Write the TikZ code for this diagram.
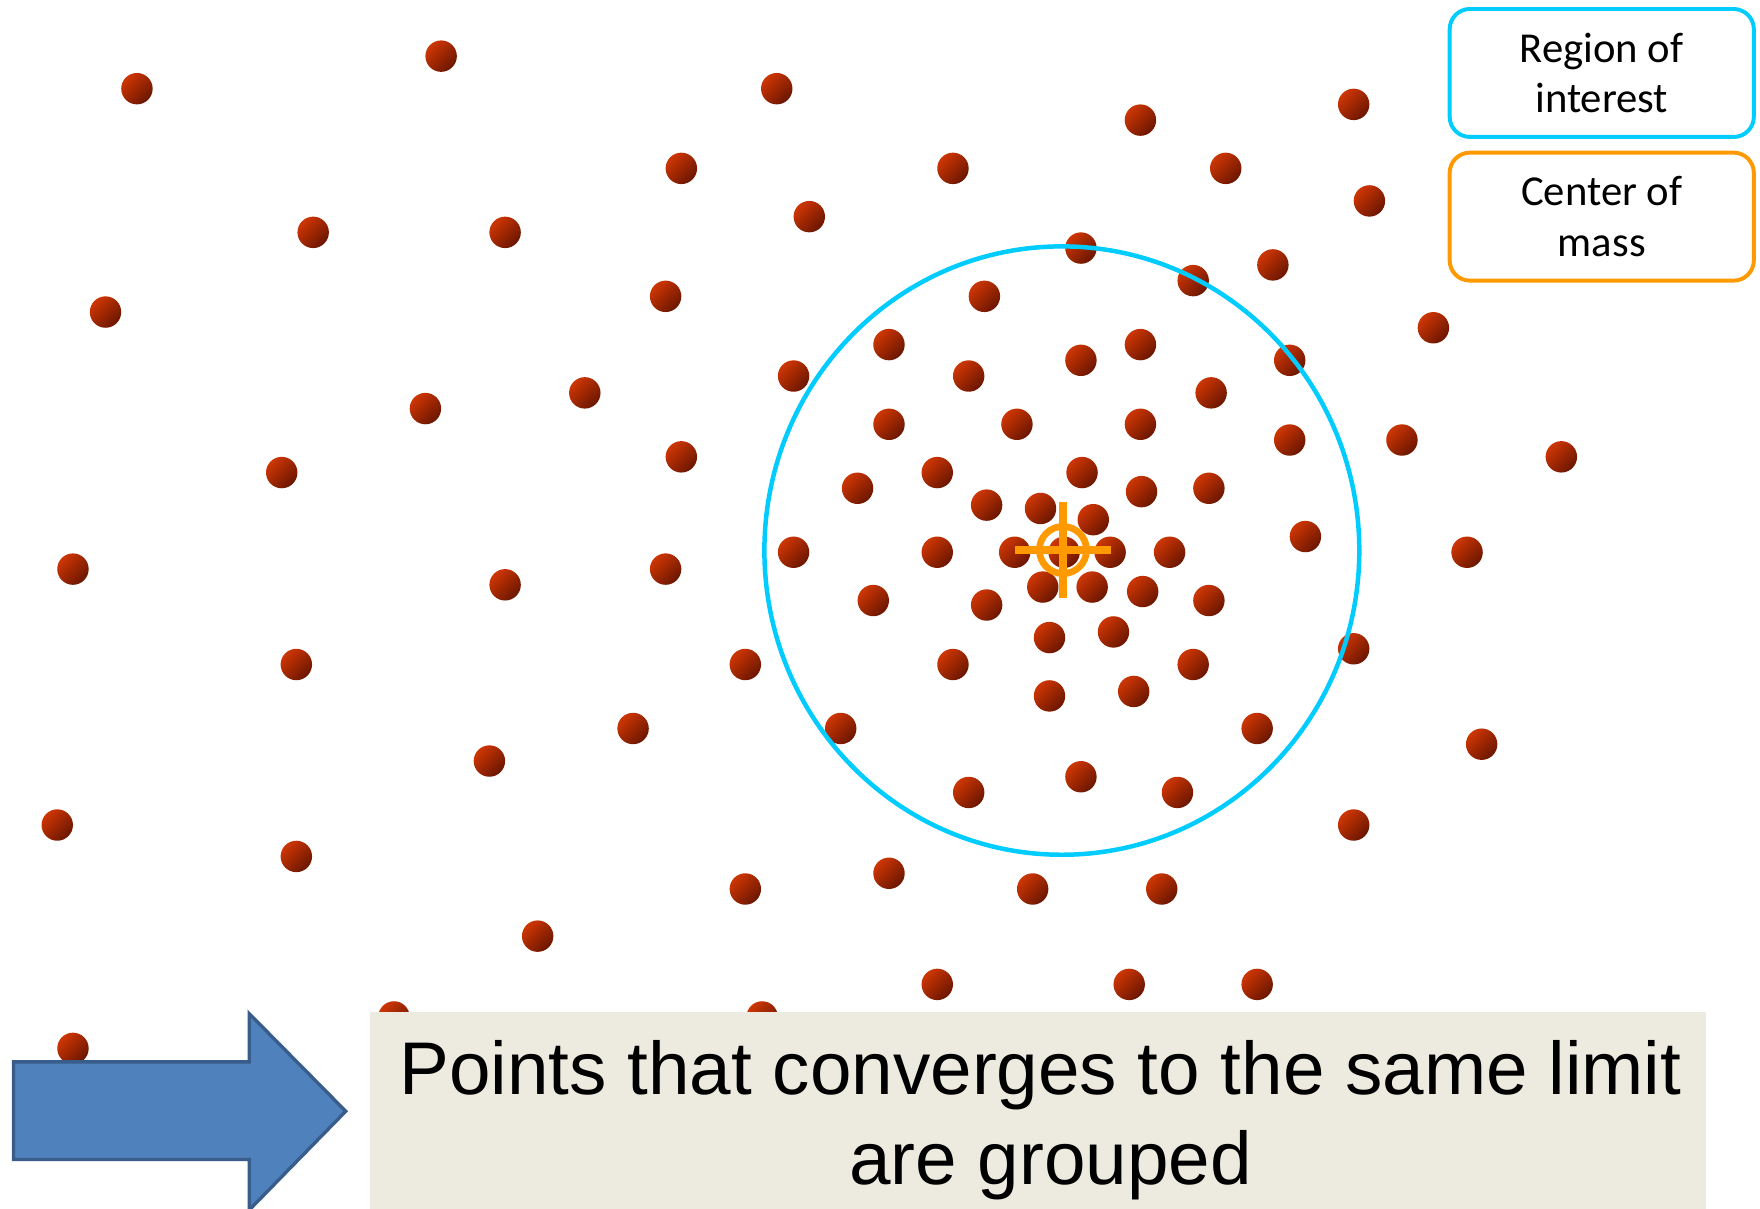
\documentclass[tikz,border=0pt]{standalone}
\usepackage{fontspec}
\setmainfont{Liberation Sans}
\newfontfamily\calfont{Carlito}
\definecolor{roiblue}{RGB}{0,204,255}
\definecolor{comorange}{RGB}{255,153,0}
\definecolor{ptlight}{RGB}{206,54,4}
\definecolor{ptdark}{RGB}{106,22,0}
\definecolor{arrowfill}{RGB}{79,129,189}
\definecolor{arrowline}{RGB}{56,93,138}
\definecolor{notefill}{RGB}{237,235,224}
\tikzset{
    ptdot/.style={top color=ptlight, bottom color=ptdark, shading angle=45},
    legendbox/.style={draw, line width=3.5pt, rounded corners=18pt, minimum width=271pt,
        minimum height=114pt, align=center, font=\calfont\fontsize{38}{45}\selectfont}
}
\begin{document}
\begin{tikzpicture}[x=1pt, y=-1pt]
    \useasboundingbox (0,0) rectangle (1568,1077);
    \fill[white] (0,0) rectangle (1568,1077);

    % Data points
    \foreach \x/\y in {122/79, 393/50, 692/79, 1016/107, 1206/93, 607/150, 849/150, 1092/150,
        1220/179, 279/207, 450/207, 721/193, 963/221, 1134/236, 1063/250, 94/278, 593/264,
        877/264, 1277/292, 792/307, 1016/307, 963/321, 1149/321, 707/335, 863/335, 521/350,
        379/364, 1079/350, 792/378, 906/378, 1016/378, 1149/392, 1249/392, 1391/407, 607/407,
        251/421, 835/421, 964/421, 764/435, 1017/438, 1077/435, 879/450, 927/453, 974/463,
        1163/478, 65/507, 593/507, 707/492, 835/492, 904/492, 948/492, 989/492, 1042/492,
        1307/492, 450/521, 929/523, 973/523, 1018/527, 778/535, 879/539, 1077/535, 992/563,
        935/568, 264/592, 664/592, 849/592, 1063/592, 1206/578, 935/620, 1010/616, 564/649,
        749/649, 1120/649, 1320/663, 436/678, 963/692, 863/706, 1049/706, 51/735, 1206/735,
        264/763, 792/778, 664/792, 920/792, 1035/792, 479/834, 835/877, 1006/877, 1120/877,
        351/906, 679/906, 65/934} {
        \shade[ptdot] (\x,\y) circle (14pt);
    }

    % Region of interest and center of mass
    \coordinate (ctr) at (947,490);
    \draw[roiblue, line width=4pt] (946,490.5) ellipse (265pt and 271pt);
    \draw[comorange, line width=6pt] (ctr) circle (21pt);
    \draw[comorange, line width=7pt] ([xshift=-43pt]ctr) -- ([xshift=43pt]ctr);
    \draw[comorange, line width=7pt] ([yshift=-43pt]ctr) -- ([yshift=43pt]ctr);

    % Legend
    \node[legendbox, draw=roiblue] (roi) at (1427,65) {Region of\\interest};
    \node[legendbox, draw=comorange] (com) at (1427,193) {Center of\\mass};

    % Block arrow
    \draw[fill=arrowfill, draw=arrowline, line width=3pt, line join=miter]
        (12,946) -- (222,946) -- (222,903) -- (308,990) -- (222,1078) -- (222,1033)
        -- (12,1033) -- cycle;

    % Caption
    \fill[notefill] (330,902) rectangle (1520,1080);
    \node[anchor=north, align=center, inner sep=0pt, font=\fontsize{66.5}{80}\selectfont]
        (note) at (927,927) {Points that converges to the same limit\\\hspace*{18pt}are grouped};
\end{tikzpicture}
\end{document}
